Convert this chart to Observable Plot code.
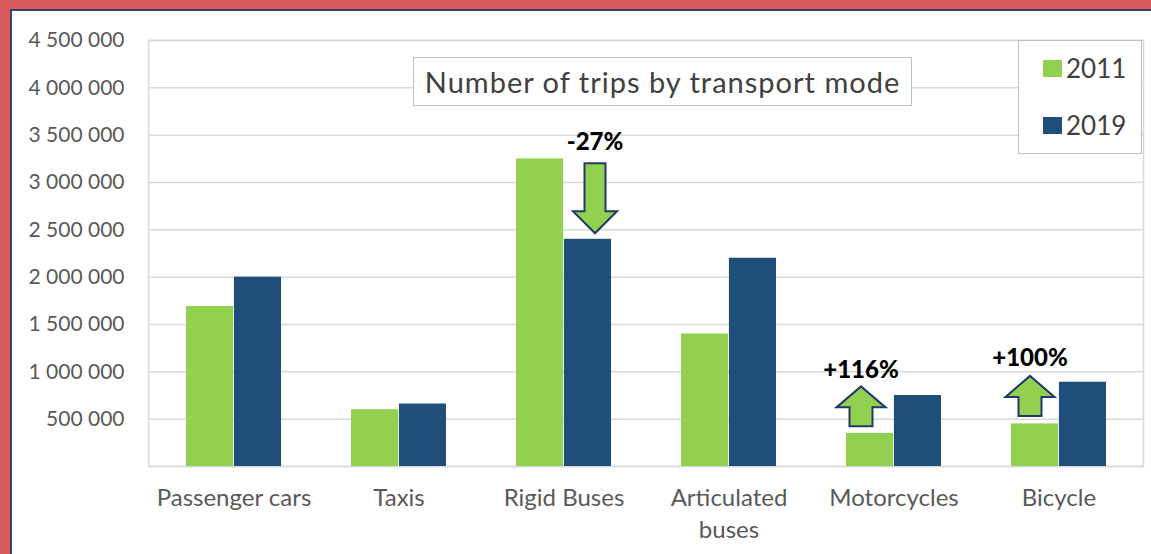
<!DOCTYPE html>
<html>
<head>
<meta charset="utf-8">
<script src="https://cdn.jsdelivr.net/npm/d3@7"></script>
<script src="https://cdn.jsdelivr.net/npm/@observablehq/plot@0.6"></script>
<style>
  html, body { margin: 0; padding: 0; background: white; }
  #wrap { position: relative; width: 1151px; height: 554px; overflow: hidden; font-family: Lato, sans-serif; }
  #wrap svg { position: absolute; left: 0; top: 0; }
  .red-left { position: absolute; left: 0; top: 0; width: 10px; height: 554px; background: #d85a5b; }
  .red-top { position: absolute; left: 0; top: 0; width: 1151px; height: 9px; background: #d85a5b; }
  .dark-left { position: absolute; left: 10px; top: 9px; width: 2px; height: 545px; background: #34426e; }
  .dark-top { position: absolute; left: 10px; top: 9px; width: 1141px; height: 1.5px; background: #34426e; }
  .title { position: absolute; left: 413px; top: 57px; width: 497px; height: 47px; border: 1.5px solid #bfbfbf; background: white;
           color: #404040; font-size: 29px; display: flex; align-items: center; justify-content: center; letter-spacing: 1px; }
  .legend { position: absolute; left: 1018px; top: 40px; width: 122px; height: 112px; border: 1.5px solid #bfbfbf; background: white; }
  .legend .item { position: absolute; left: 24px; display: flex; align-items: center; color: #404040; font-size: 26px; }
  .legend .sw { width: 19px; height: 17px; margin-right: 4px; }
</style>
</head>
<body>
<div id="wrap"></div>
<script>
// ---------- data ----------
const categories = ["Passenger cars", "Taxis", "Rigid Buses", "Articulated buses", "Motorcycles", "Bicycle"];
const years = ["2011", "2019"];
const values2011 = [1690000, 600000, 3250000, 1400000, 350000, 450000];
const values2019 = [2000000, 660000, 2400000, 2200000, 750000, 890000];
const yTicks = [0, 500000, 1000000, 1500000, 2000000, 2500000, 3000000, 3500000, 4000000, 4500000];
const annCategories = ["Rigid Buses", "Motorcycles", "Bicycle"];
const annYears = ["2019", "2011", "2011"];
const annLabels = ["-27%", "+116%", "+100%"];
const annDirections = ["down", "up", "up"];

// ---------- styles ----------
const GREEN = "#92d050";
const BLUE = "#1f4e79";
const GRID = "#d9d9d9";
const TEXT = "#595959";
const ARROW_STROKE = "#24396b";

const W = 1151, H = 554, ML = 148, MR = 8, MT = 40, MB = 88;
const step = (W - ML - MR) / categories.length;
const outer = 35, half = step / 2 - outer;

const rows = [];
categories.forEach((c, i) => {
  rows.push({category: c, year: "2011", value: values2011[i]});
  rows.push({category: c, year: "2019", value: values2019[i]});
});
const ann = annCategories.map((c, i) => {
  const idx = categories.indexOf(c);
  const v = annYears[i] === "2011" ? values2011[idx] : values2019[idx];
  return {category: c, year: annYears[i], value: v, label: annLabels[i], dir: annDirections[i]};
});

// arrow symbols (drawn relative to anchor point)
const arrowDown = {
  draw(ctx) {
    ctx.moveTo(0, 0); ctx.lineTo(-22, -22); ctx.lineTo(-10.5, -22); ctx.lineTo(-10.5, -70);
    ctx.lineTo(10.5, -70); ctx.lineTo(10.5, -22); ctx.lineTo(22, -22); ctx.closePath();
  }
};
const arrowUp = {
  draw(ctx) {
    ctx.moveTo(-11.5, 0); ctx.lineTo(11.5, 0); ctx.lineTo(11.5, -19); ctx.lineTo(24.5, -19);
    ctx.lineTo(0, -40); ctx.lineTo(-24.5, -19); ctx.lineTo(-11.5, -19); ctx.closePath();
  }
};
// per-annotation offsets (style, not data)
const annOffsets = {
  "Rigid Buses": {dx: 31, arrowDy: -6, textDy: -97},
  "Motorcycles": {dx: -33, arrowDy: -7, textDy: -63},
  "Bicycle": {dx: -29, arrowDy: -8, textDy: -66}
};

const fmt = d => d === 0 ? "" : d3.format(",")(d).replace(/,/g, " ");

const marks = [
  Plot.gridY(yTicks, {stroke: GRID, strokeOpacity: 1, strokeWidth: 1.5}),
  Plot.frame({stroke: GRID, strokeWidth: 1.5}),
  Plot.barY(rows.filter(d => d.year === "2011"), {x: "category", y: "value", fill: GREEN, insetLeft: outer, insetRight: step - outer - half}),
  Plot.barY(rows.filter(d => d.year === "2019"), {x: "category", y: "value", fill: BLUE, insetLeft: step - outer - half, insetRight: outer}),
  Plot.axisY({ticks: yTicks, tickSize: 0, tickPadding: 24, fontSize: 21, fill: TEXT, tickFormat: fmt, label: null}),
  Plot.axisX({tickSize: 0, tickPadding: 17, fontSize: 24, fill: TEXT, lineHeight: 1.33, label: null,
              tickFormat: d => d === "Articulated buses" ? "Articulated\nbuses" : d})
];
ann.forEach(a => {
  const o = annOffsets[a.category];
  marks.push(Plot.dot([a], {x: "category", y: "value", dx: o.dx, dy: o.arrowDy,
    symbol: a.dir === "down" ? arrowDown : arrowUp, fill: GREEN, stroke: ARROW_STROKE, strokeWidth: 2}));
  marks.push(Plot.text([a], {x: "category", y: "value", text: "label", dx: o.dx, dy: o.textDy,
    fontSize: 24, fontWeight: 900, fill: "black"}));
});

const chart = Plot.plot({
  width: W, height: H,
  marginLeft: ML, marginRight: MR, marginTop: MT, marginBottom: MB,
  x: {domain: categories, padding: 0},
  y: {domain: [0, 4500000]},
  style: {fontFamily: "Lato, sans-serif", background: "white", overflow: "visible"},
  marks
});

const wrap = document.getElementById("wrap");
wrap.appendChild(chart);
wrap.insertAdjacentHTML("beforeend", `
  <div class="red-left"></div><div class="red-top"></div>
  <div class="dark-top"></div><div class="dark-left"></div>
  <div class="title">Number of trips by transport mode</div>
  <div class="legend">
    <div class="item" style="top:11px"><div class="sw" style="background:${GREEN}"></div>${years[0]}</div>
    <div class="item" style="top:68px"><div class="sw" style="background:${BLUE}"></div>${years[1]}</div>
  </div>`);
</script>
</body>
</html>
